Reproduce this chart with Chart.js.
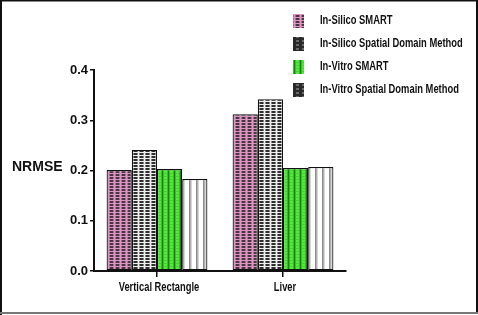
<!DOCTYPE html>
<html>
<head>
<meta charset="utf-8">
<script src="https://cdn.jsdelivr.net/npm/chart.js@4"></script>
<style>
  html, body { margin: 0; padding: 0; background: #fff; }
  #wrap { width: 478px; height: 315px; }
</style>
</head>
<body>
<div id="wrap"><canvas id="chart1" width="478" height="315"></canvas></div>
<script>
// values
const categories = ['Vertical Rectangle', 'Liver'];
const seriesNames = ['In-Silico SMART', 'In-Silico Spatial Domain Method', 'In-Vitro SMART', 'In-Vitro Spatial Domain Method'];
const inSilicoSmart = [0.201, 0.312];
const inSilicoSpatial = [0.241, 0.342];
const inVitroSmart = [0.203, 0.205];
const inVitroSpatial = [0.183, 0.207];
const yTicks = [0, 0.1, 0.2, 0.3, 0.4];
const yTitle = 'NRMSE';

const SANS = "'Liberation Sans', Arial, sans-serif";

function makePattern(w, h, draw) {
  const c = document.createElement('canvas');
  c.width = w; c.height = h;
  const g = c.getContext('2d');
  draw(g);
  return g.createPattern(c, 'repeat');
}

const pinkFill = makePattern(6, 3, g => {
  g.fillStyle = '#dc94c2'; g.fillRect(0, 0, 6, 3);
  g.fillStyle = '#4a3442'; g.fillRect(2, 0, 3, 2);
  g.fillStyle = '#9c6e8c'; g.fillRect(5, 0, 1, 2); g.fillRect(1, 0, 1, 2);
});
const grayFill = makePattern(6, 3, g => {
  g.fillStyle = '#eeeeee'; g.fillRect(0, 0, 6, 3);
  g.fillStyle = '#2e2e2e'; g.fillRect(2, 0, 3, 2);
  g.fillStyle = '#808080'; g.fillRect(5, 0, 1, 2); g.fillRect(1, 0, 1, 2);
});
const greenFill = makePattern(6, 3, g => {
  g.fillStyle = '#52ea3c'; g.fillRect(0, 0, 6, 3);
  g.fillStyle = '#237a1a'; g.fillRect(0, 0, 1, 3);
  g.fillStyle = '#3cba2c'; g.fillRect(1, 0, 1, 3); g.fillRect(5, 0, 1, 3);
  g.fillStyle = '#46d032'; g.fillRect(2, 2, 3, 1);
});
const whiteFill = makePattern(7, 1, g => {
  g.fillStyle = '#ffffff'; g.fillRect(0, 0, 7, 1);
  g.fillStyle = '#8c8c8c'; g.fillRect(0, 0, 1, 1);
  g.fillStyle = '#b0b0b0'; g.fillRect(1, 0, 1, 1);
  g.fillStyle = '#d8d8d8'; g.fillRect(2, 0, 1, 1);
});
const darkFill = makePattern(6, 4, g => {
  g.fillStyle = '#2a2a2a'; g.fillRect(0, 0, 6, 4);
  g.fillStyle = '#6a6a6a'; g.fillRect(2, 0, 3, 2);
});

// narrow bold text, squeezed horizontally
function narrowText(ctx, text, x, y, size, squeeze, align) {
  ctx.save();
  ctx.font = 'bold ' + size + 'px ' + SANS;
  ctx.textAlign = align;
  ctx.textBaseline = 'middle';
  ctx.fillStyle = '#111';
  ctx.translate(x, y);
  ctx.scale(squeeze, 1);
  ctx.fillText(text, 0, 0);
  ctx.restore();
}

// legend as a vertical list in the upper right, x labels, y title and frame
const extras = {
  id: 'extras',
  afterDraw(chart) {
    const ctx = chart.ctx;
    chart.data.datasets.forEach((ds, i) => {
      const y = 21 + i * 23;
      ctx.fillStyle = ds.legendFill;
      ctx.fillRect(293, y - 7, 11, 14);
      narrowText(ctx, ds.label, 320, y, 12.5, 0.75, 'left');
    });
    const xs = chart.scales.x;
    chart.data.labels.forEach((lab, i) => {
      narrowText(ctx, lab, xs.getPixelForTick(i) + 2, 288, 12, 0.78, 'center');
    });
    ctx.save();
    ctx.font = 'bold 14px ' + SANS;
    ctx.fillStyle = '#111';
    ctx.textBaseline = 'middle';
    ctx.fillText(yTitle, 12, 167);
    ctx.strokeStyle = '#111';
    ctx.lineWidth = 2;
    ctx.beginPath();
    ctx.moveTo(1, 315); ctx.lineTo(1, 0.5); ctx.lineTo(477, 0.5); ctx.lineTo(477, 313);
    ctx.stroke();
    ctx.strokeStyle = '#777';
    ctx.beginPath();
    ctx.moveTo(0, 313); ctx.lineTo(478, 313);
    ctx.stroke();
    ctx.restore();
  }
};

const chart1 = new Chart(document.getElementById('chart1'), {
  type: 'bar',
  data: {
    labels: categories,
    datasets: [
      { label: seriesNames[0], data: inSilicoSmart, backgroundColor: pinkFill, legendFill: pinkFill },
      { label: seriesNames[1], data: inSilicoSpatial, backgroundColor: grayFill, legendFill: darkFill },
      { label: seriesNames[2], data: inVitroSmart, backgroundColor: greenFill, legendFill: greenFill },
      { label: seriesNames[3], data: inVitroSpatial, backgroundColor: whiteFill, legendFill: darkFill }
    ].map(ds => Object.assign(ds, { borderColor: '#111', borderWidth: 1.2, borderSkipped: false }))
  },
  options: {
    responsive: false,
    animation: false,
    categoryPercentage: 0.8,
    barPercentage: 1,
    layout: { padding: { top: 70, right: 132, left: 0, bottom: 0 } },
    plugins: { legend: { display: false }, tooltip: { enabled: false } },
    scales: {
      x: {
        offset: true,
        afterFit: scale => { scale.height = 44; },
        ticks: { display: false },
        grid: { offset: false, drawOnChartArea: false, tickLength: 6, color: '#111', lineWidth: 1.5 },
        border: { color: '#111', width: 2 }
      },
      y: {
        min: yTicks[0],
        max: yTicks[yTicks.length - 1],
        afterBuildTicks: scale => { scale.ticks = yTicks.map(v => ({ value: v })); },
        afterFit: scale => { scale.width = 94; },
        ticks: {
          callback: v => v.toFixed(1),
          color: '#111',
          padding: 2,
          font: { family: SANS, size: 13, weight: 'bold' }
        },
        grid: { drawOnChartArea: false, tickLength: 4, color: '#111', lineWidth: 1.5 },
        border: { color: '#111', width: 2 }
      }
    }
  },
  plugins: [extras]
});
</script>
</body>
</html>
